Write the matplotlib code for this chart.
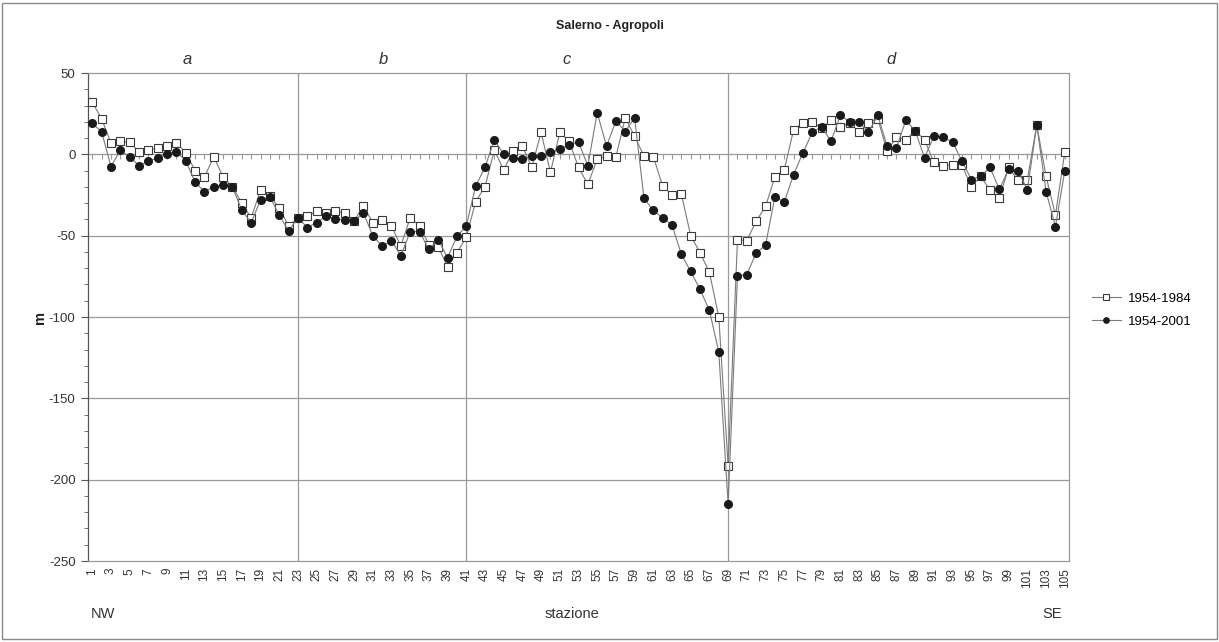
import numpy as np
import matplotlib
matplotlib.use("Agg")
import matplotlib.pyplot as plt
from matplotlib.patches import Rectangle

plt.rcParams["font.family"] = ["Liberation Sans", "DejaVu Sans"]
plt.rcParams["axes.unicode_minus"] = False

stations = np.arange(1, 106)

# 1954-1984 (open squares)
s1984 = [32, 22, 7, 8, 7.5, 1.5, 2.5, 4, 5, 7,
         1, -10, -14, -1.5, -14, -20, -30, -39, -22, -25.5,
         -33, -44, -39, -38, -35, -36, -35, -36, -41, -31.5,
         -42, -40.5, -44, -56.5, -39, -44, -55.5, -57, -69, -60.5,
         -51, -29, -20, 2.5, -9.5, 2, 5, -8, 13.5, -11,
         13.5, 8, -8, -18.5, -3, -1, -1.5, 22.5, 11, -1,
         -1.5, -19.5, -25, -24.5, -50, -60.5, -72.5, -100, -191.5, -52.5,
         -53, -41, -32, -14, -9.5, 15, 19.5, 20, 16, 21,
         16.5, 19.5, 13.5, 19.5, 22, 2, 10.5, 9, 14.5, 9,
         -5, -7, -6.5, -6.5, -20, -13.5, -22, -27, -8, -16,
         -15.5, 18, -13.5, -37.5, 1.5]

# 1954-2001 (filled circles)
s2001 = [19, 14, -7.5, 2.5, -1.5, -7, -4, -2.5, 0.5, 1.5,
         -4, -17, -23, -20, -19, -20, -34.5, -42, -28, -26,
         -37.5, -47, -39, -45, -42, -38, -39.5, -40.5, -41, -36,
         -50, -56.5, -53, -62.5, -47.5, -47.5, -58.5, -52.5, -63.5, -50.5,
         -44, -19.5, -8, 9, 0, -2, -3, -1, -1, 1.5,
         3, 6, 7.5, -7, 25.5, 5, 20.5, 14, 22.5, -27,
         -34.5, -39, -43.5, -61.5, -72, -83, -96, -121.5, -215, -74.5,
         -74, -60.5, -56, -26, -29.5, -12.5, 1, 13.5, 17, 8,
         24, 20, 20, 13.5, 24, 5, 4, 21, 14.5, -2,
         11, 10.5, 7.5, -4, -15.5, -13.5, -8, -21.5, -9, -10,
         -22, 18, -23, -44.5, -10]

sector_breaks = [23, 41, 69]
sector_labels = ["a", "b", "c", "d"]
sector_label_x = [11.2, 32.1, 51.7, 86.4]
y_ticks = [50, 0, -50, -100, -150, -200, -250]

fig = plt.figure(figsize=(12.19, 6.42), dpi=100)
ax = fig.add_axes([88 / 1219, 1 - 561 / 642, (1069 - 88) / 1219, (561 - 73) / 642])

grid_c = "#999999"
line_c = "#7a7a7a"

for y in y_ticks[2:-1]:
    ax.axhline(y, color=grid_c, lw=0.9, zorder=1)
for xb in sector_breaks:
    ax.axvline(xb, color=grid_c, lw=0.9, zorder=1)

# zero line with small station ticks
ax.axhline(0, color=grid_c, lw=0.9, zorder=1)
ax.plot(stations, np.zeros(len(stations)), ls="none", marker=3, ms=3.5,
        mew=0.8, color=grid_c, zorder=1)

l1, = ax.plot(stations, s1984, color=line_c, lw=0.8, marker="s", ms=5.5,
              mfc="white", mec="#3a3a3a", mew=0.8, zorder=3, label="1954-1984")
l2, = ax.plot(stations, s2001, color=line_c, lw=0.8, marker="o", ms=5.5,
              mfc="#1a1a1a", mec="#1a1a1a", zorder=4, label="1954-2001")

ax.set_xlim(0.55, 105.45)
ax.set_ylim(-250, 50)
ax.set_yticks(y_ticks)
ax.set_yticks(np.arange(-250, 51, 10), minor=True)
ax.tick_params(axis="y", which="major", length=5, color="#555555",
               labelsize=9.5, labelcolor="#333333", pad=4)
ax.tick_params(axis="y", which="minor", length=3, color="#555555")

ax.set_xticks(stations[::2])
ax.set_xticklabels([str(s) for s in stations[::2]], rotation=90)
ax.tick_params(axis="x", length=0, labelsize=8.5, labelcolor="#333333", pad=5)

for side in ["top", "right", "bottom"]:
    ax.spines[side].set_color(grid_c)
    ax.spines[side].set_linewidth(0.9)
ax.spines["left"].set_color("#555555")
ax.spines["left"].set_linewidth(0.9)

for lab, xl in zip(sector_labels, sector_label_x):
    ax.text(xl, 1.027, lab, transform=ax.get_xaxis_transform(), ha="center",
            va="center", fontsize=12, style="italic", color="#333333")

fig.text(0.5, 1 - 26 / 642, "Salerno - Agropoli", ha="center", va="center",
         fontsize=9, fontweight="bold", color="#222222")
fig.text(40 / 1219, 1 - 317 / 642, "m", ha="center", va="center", rotation=90,
         fontsize=10.5, fontweight="bold", color="#222222")
fig.text(103 / 1219, 1 - 614 / 642, "NW", ha="center", va="center",
         fontsize=10.5, color="#333333")
fig.text(572 / 1219, 1 - 614 / 642, "stazione", ha="center", va="center",
         fontsize=10.5, color="#333333")
fig.text(1052 / 1219, 1 - 614 / 642, "SE", ha="center", va="center",
         fontsize=10.5, color="#333333")

fig.legend(handles=[l1, l2], loc="center left", bbox_to_anchor=(1080 / 1219, 1 - 310 / 642),
           frameon=False, fontsize=9.5, handlelength=2.2, markerscale=0.7,
           labelspacing=0.8, handletextpad=0.5)

fig.add_artist(Rectangle((0.002, 0.004), 0.996, 0.992, transform=fig.transFigure,
                         fill=False, edgecolor="#888888", lw=1.0))

fig.savefig("out.png", dpi=100)
